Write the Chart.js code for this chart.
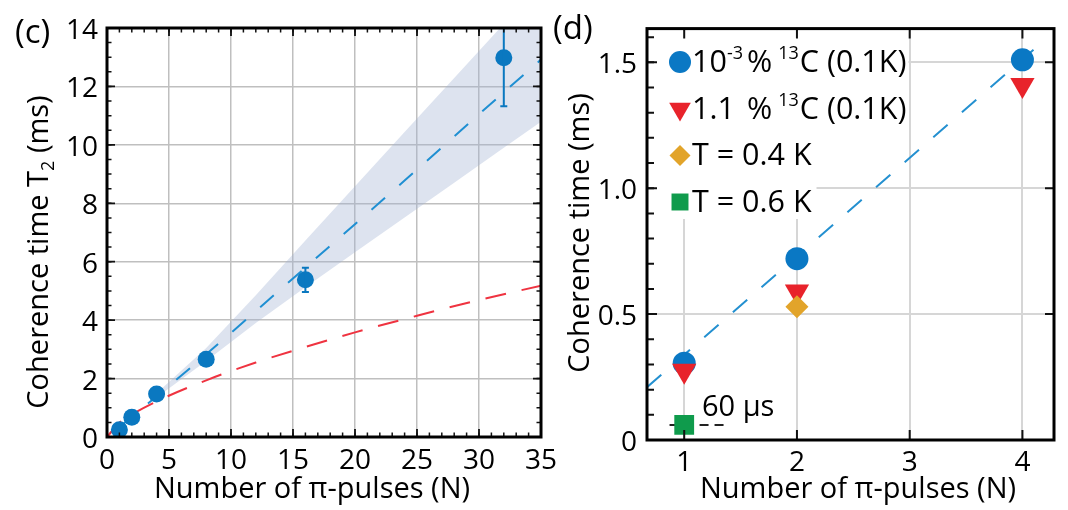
<!DOCTYPE html>
<html>
<head>
<meta charset="utf-8">
<script src="https://cdn.jsdelivr.net/npm/chart.js@4.4.0/dist/chart.umd.min.js"></script>
<style>
  html, body { margin: 0; padding: 0; background: #fff; }
  #wrap { position: relative; width: 1068px; height: 510px; overflow: hidden; background: #fff; }
  #cvC { position: absolute; left: 0; top: 0; }
  #cvD { position: absolute; left: 545px; top: 0; }
</style>
</head>
<body>
<div id="wrap">
  <canvas id="cvC" width="570" height="510"></canvas>
  <canvas id="cvD" width="523" height="510"></canvas>
</div>
<script>
// ---------- Panel (c): T2 versus number of pi pulses ----------
const pulsesC   = [1, 2, 4, 8, 16, 32];
const t2C       = [0.25, 0.675, 1.47, 2.66, 5.38, 12.98];
const t2ErrLow  = [null, null, null, null, 4.96, 11.32];
const t2ErrHigh = [null, null, null, null, 5.79, 15.2];

// fitted scaling (blue dashed) and its confidence band
const fitN  = [1, 2, 4, 8, 16, 24, 32, 35];
const fitT2 = [0.34, 0.69, 1.39, 2.83, 5.80, 8.78, 11.80, 12.92];
const bandN     = [4, 8, 12, 16, 20, 24, 28, 32, 35];
const bandUpper = [1.50, 3.05, 4.85, 6.73, 8.58, 10.44, 12.29, 14.14, 15.50];
const bandLower = [1.35, 2.60, 3.90, 5.13, 6.32, 7.51, 8.70, 9.90, 10.79];

// reference scaling (red dashed)
const refN  = [0, 1, 2, 4, 8, 12, 16, 20, 25, 30, 35];
const refT2 = [0, 0.49, 0.77, 1.22, 1.94, 2.55, 3.08, 3.58, 4.15, 4.69, 5.18];

const xTicksC = [0, 5, 10, 15, 20, 25, 30, 35];
const yTicksC = [0, 2, 4, 6, 8, 10, 12, 14];

// ---------- Panel (d): coherence time for several samples ----------
const pulsesD  = [1, 2, 4];
const lowC13   = [0.305, 0.72, 1.51];   // 10^-3 % 13C (0.1 K)
const natC13   = [0.275, 0.59, 1.41];   // 1.1 % 13C (0.1 K)
const pulsesT04 = [2];
const t04       = [0.529];              // T = 0.4 K
const pulsesT06 = [1];
const t06       = [0.06];               // T = 0.6 K
const fitDN = [0.67, 4.15];
const fitDT = [0.21, 1.57];
const hahnN = [0.87, 1.39];
const hahnT = [0.06, 0.06];             // 60 us level

const xTicksD = [1, 2, 3, 4];
const yTicksD = [0, 0.5, 1.0, 1.5];
const yTickTextD = ['0', '0.5', '1.0', '1.5'];

const legendD = [
  { style: 'circle',   color: '#0a78c4', parts: [['10'], ['-3', 'sup'], ['%', 'pct'], ['13', 'sup2'], ['C (0.1K)']] },
  { style: 'triangle', color: '#e8232b', parts: [['1.1'], ['%', 'pct'], ['13', 'sup2'], ['C (0.1K)']] },
  { style: 'diamond',  color: '#e2a42a', parts: [['T = 0.4 K']] },
  { style: 'square',   color: '#0f9b4c', parts: [['T = 0.6 K']] }
];

const FONT = "'Open Sans', 'DejaVu Sans', sans-serif";
Chart.defaults.font.family = FONT;
Chart.defaults.color = '#000';

const BLUE_PT = '#0a78c0';
const BLUE_LN = '#1f8fd2';
const RED_LN  = '#ef3340';

const xy = (xs, ys) => xs.map((v, i) => ({ x: v, y: ys[i] }));
function steps(min, max, step) {
  const out = [];
  for (let k = 0; min + k * step <= max + 1e-9; k++) out.push(+(min + k * step).toFixed(6));
  return out;
}

function inwardTicks(chart, axis, values, len, sides, width) {
  const { ctx, chartArea: a } = chart;
  const sc = chart.scales[axis];
  ctx.save();
  ctx.strokeStyle = '#111';
  ctx.lineWidth = width;
  ctx.beginPath();
  for (const v of values) {
    const p = sc.getPixelForValue(v);
    if (axis === 'x') {
      if (sides.includes('bottom')) { ctx.moveTo(p, a.bottom); ctx.lineTo(p, a.bottom - len); }
      if (sides.includes('top'))    { ctx.moveTo(p, a.top);    ctx.lineTo(p, a.top + len); }
    } else {
      if (sides.includes('left'))  { ctx.moveTo(a.left, p);  ctx.lineTo(a.left + len, p); }
      if (sides.includes('right')) { ctx.moveTo(a.right, p); ctx.lineTo(a.right - len, p); }
    }
  }
  ctx.stroke();
  ctx.restore();
}

function frame(chart, w) {
  const { ctx, chartArea: a } = chart;
  ctx.save();
  ctx.strokeStyle = '#000';
  ctx.lineWidth = w;
  ctx.strokeRect(a.left, a.top, a.right - a.left, a.bottom - a.top);
  ctx.restore();
}

function text(ctx, str, x, y, size, align, rotate) {
  ctx.save();
  ctx.font = size + 'px ' + FONT;
  ctx.fillStyle = '#000';
  ctx.textAlign = align || 'left';
  ctx.textBaseline = 'middle';
  ctx.translate(x, y);
  if (rotate) ctx.rotate(-Math.PI / 2);
  ctx.fillText(str, 0, 0);
  ctx.restore();
}

function marker(ctx, style, x, y, r, color) {
  ctx.save();
  ctx.fillStyle = color;
  ctx.beginPath();
  if (style === 'circle') {
    ctx.arc(x, y, r, 0, Math.PI * 2);
  } else if (style === 'triangle') {      // apex pointing down
    for (let k = 0; k < 3; k++) {
      const ang = Math.PI + k * 2 * Math.PI / 3;
      const px = x + Math.sin(ang) * r, py = y - Math.cos(ang) * r;
      k ? ctx.lineTo(px, py) : ctx.moveTo(px, py);
    }
    ctx.closePath();
  } else if (style === 'diamond') {
    ctx.moveTo(x, y - r); ctx.lineTo(x + r, y); ctx.lineTo(x, y + r); ctx.lineTo(x - r, y); ctx.closePath();
  } else {
    const s = r * Math.SQRT1_2;
    ctx.rect(x - s, y - s, 2 * s, 2 * s);
  }
  ctx.fill();
  ctx.restore();
}

// ---------- chart (c) ----------
const decorC = {
  id: 'decorC',
  afterDatasetsDraw(chart) {
    const { ctx, chartArea: a, scales: { x, y } } = chart;
    ctx.save();
    ctx.beginPath();
    ctx.rect(a.left, a.top, a.right - a.left, a.bottom - a.top);
    ctx.clip();
    ctx.strokeStyle = BLUE_PT;
    ctx.lineWidth = 2;
    pulsesC.forEach((n, i) => {
      if (t2ErrLow[i] == null) return;
      const px = x.getPixelForValue(n);
      const lo = y.getPixelForValue(t2ErrLow[i]);
      const hi = y.getPixelForValue(t2ErrHigh[i]);
      ctx.beginPath();
      ctx.moveTo(px, lo); ctx.lineTo(px, hi);
      ctx.moveTo(px - 3.5, lo); ctx.lineTo(px + 3.5, lo);
      ctx.moveTo(px - 3.5, hi); ctx.lineTo(px + 3.5, hi);
      ctx.stroke();
    });
    ctx.restore();
  },
  afterDraw(chart) {
    const { ctx } = chart;
    inwardTicks(chart, 'x', steps(0, 35, 1), 4.5, ['top', 'bottom'], 1.5);
    inwardTicks(chart, 'x', xTicksC, 8, ['top', 'bottom'], 1.8);
    inwardTicks(chart, 'y', steps(0, 14, 0.5), 4.5, ['left', 'right'], 1.5);
    inwardTicks(chart, 'y', yTicksC, 8, ['left', 'right'], 1.8);
    frame(chart, 3);

    text(ctx, '(c)', 15, 34, 33, 'left');
    text(ctx, 'Number of \u03C0-pulses (N)', 312, 490, 29, 'center');

    // rotated axis title with subscript
    ctx.save();
    ctx.translate(40, 252);
    ctx.rotate(-Math.PI / 2);
    ctx.fillStyle = '#000';
    ctx.textBaseline = 'middle';
    const big = '29px ' + FONT, small = '18px ' + FONT;
    ctx.font = big;
    const p1 = 'Coherence time T', p3 = ' (ms)';
    const w1 = ctx.measureText(p1).width, w3 = ctx.measureText(p3).width;
    ctx.font = small;
    const w2 = ctx.measureText('2').width;
    let sx = -(w1 + w2 + w3) / 2;
    ctx.font = big;  ctx.fillText(p1, sx, 0); sx += w1;
    ctx.font = small; ctx.fillText('2', sx, 9); sx += w2;
    ctx.font = big;  ctx.fillText(p3, sx, 0);
    ctx.restore();
  }
};

new Chart(document.getElementById('cvC'), {
  type: 'scatter',
  data: {
    datasets: [
      { type: 'line', data: xy(bandN, bandUpper), borderColor: 'rgba(0,0,0,0)', borderWidth: 0,
        pointRadius: 0, fill: false, order: 30 },
      { type: 'line', data: xy(bandN, bandLower), borderColor: 'rgba(0,0,0,0)', borderWidth: 0,
        pointRadius: 0, fill: '-1', backgroundColor: 'rgba(160,178,212,0.36)', order: 29 },
      { type: 'line', data: xy(refN, refT2), borderColor: RED_LN, borderWidth: 2, borderDash: [21, 16],
        pointRadius: 0, cubicInterpolationMode: 'monotone', fill: false, order: 12 },
      { type: 'line', data: xy(fitN, fitT2), borderColor: BLUE_LN, borderWidth: 2, borderDash: [18, 19],
        pointRadius: 0, cubicInterpolationMode: 'monotone', fill: false, order: 11 },
      { data: xy(pulsesC, t2C), backgroundColor: BLUE_PT, borderWidth: 0, pointRadius: 8.5,
        pointHoverRadius: 8.5, order: 1 }
    ]
  },
  options: {
    responsive: false,
    animation: false,
    events: [],
    layout: { padding: { top: 28, right: 29, left: 0, bottom: 0 } },
    plugins: { legend: { display: false }, tooltip: { enabled: false } },
    scales: {
      x: {
        type: 'linear', min: 0, max: 35,
        afterFit: s => { s.height = 73; },
        afterBuildTicks: s => { s.ticks = xTicksC.map(v => ({ value: v })); },
        grid: { color: '#bfbfbf', lineWidth: 1.5, drawTicks: false },
        border: { display: false },
        ticks: { autoSkip: false, maxRotation: 0, padding: 7, font: { size: 28 }, color: '#000' }
      },
      y: {
        type: 'linear', min: 0, max: 14,
        afterFit: s => { s.width = 107; },
        afterBuildTicks: s => { s.ticks = yTicksC.map(v => ({ value: v })); },
        grid: { color: '#bfbfbf', lineWidth: 1.5, drawTicks: false },
        border: { display: false },
        ticks: { autoSkip: false, padding: 9, labelOffset: 3, font: { size: 28 }, color: '#000' }
      }
    }
  },
  plugins: [decorC]
});

// ---------- chart (d) ----------
const decorD = {
  id: 'decorD',
  beforeDatasetsDraw(chart) {
    const { ctx, chartArea: a } = chart;
    // legend panel sits on top of the grid
    ctx.save();
    ctx.fillStyle = '#fff';
    ctx.fillRect(a.left + 1.5, a.top + 2, 362 - a.left, 133 - a.top);
    ctx.fillRect(a.left + 1.5, 133, 270 - a.left, 86);
    ctx.restore();

    const rowsY = [62, 109, 155.5, 202];
    const sizes = { circle: 11, triangle: 12.5, diamond: 10.5, square: 12 };
    let pctX = null, sup2X = null, restX = null;
    legendD.forEach((row, i) => {
      const cy = rowsY[i];
      marker(ctx, row.style, 135, cy, sizes[row.style], row.color);
      let x = 147;
      ctx.save();
      ctx.fillStyle = '#000';
      ctx.textBaseline = 'middle';
      for (const [str, kind] of row.parts) {
        if (kind === 'sup' || kind === 'sup2') {
          ctx.font = '18px ' + FONT;
          if (kind === 'sup2') { if (sup2X === null) sup2X = x + 6; x = sup2X; }
          ctx.fillText(str, x, cy - 8);
          x += ctx.measureText(str).width + 1;
          if (kind === 'sup2') { if (restX === null) restX = x; x = restX; }
        } else {
          ctx.font = '30.5px ' + FONT;
          if (kind === 'pct') { if (pctX === null) pctX = x + 3; x = pctX; }
          ctx.fillText(str, x, cy + 1);
          x += ctx.measureText(str).width;
        }
      }
      ctx.restore();
    });
  },
  afterDraw(chart) {
    const { ctx } = chart;
    inwardTicks(chart, 'y', steps(0, 1.6, 0.1), 7, ['left'], 2);
    inwardTicks(chart, 'y', yTicksD, 10, ['left'], 2);
    inwardTicks(chart, 'y', yTicksD, 9, ['right'], 2);
    inwardTicks(chart, 'x', xTicksD, 10, ['top', 'bottom'], 2);
    frame(chart, 3);

    text(ctx, '(d)', 8, 30, 33, 'left');
    text(ctx, '60 \u03BCs', 157, 408, 29, 'left');
    text(ctx, 'Number of \u03C0-pulses (N)', 313, 490, 29, 'center');
    text(ctx, 'Coherence time (ms)', 36, 233, 29, 'center', true);
  }
};

new Chart(document.getElementById('cvD'), {
  type: 'scatter',
  data: {
    datasets: [
      { type: 'line', data: xy(fitDN, fitDT), borderColor: '#2490d0', borderWidth: 2, borderDash: [19, 19],
        pointRadius: 0, fill: false, order: 12 },
      { type: 'line', data: xy(hahnN, hahnT), borderColor: '#222', borderWidth: 2, borderDash: [9, 6],
        pointRadius: 0, fill: false, order: 11 },
      { data: xy(pulsesD, lowC13), backgroundColor: '#0a78c4', borderWidth: 0, pointRadius: 11.5,
        pointHoverRadius: 11.5, order: 5 },
      { data: xy(pulsesD, natC13), backgroundColor: '#e8232b', borderWidth: 0, pointStyle: 'triangle',
        rotation: 180, pointRadius: 14, pointHoverRadius: 14, order: 4 },
      { data: xy(pulsesT04, t04), backgroundColor: '#e2a42a', borderWidth: 0, pointStyle: 'rectRot',
        pointRadius: 11.5, pointHoverRadius: 11.5, order: 3 },
      { data: xy(pulsesT06, t06), backgroundColor: '#0f9b4c', borderWidth: 0, pointStyle: 'rect',
        pointRadius: 14, pointHoverRadius: 14, order: 2 }
    ]
  },
  options: {
    responsive: false,
    animation: false,
    events: [],
    layout: { padding: { top: 28.6, right: 3, left: 0, bottom: 0 } },
    plugins: { legend: { display: false }, tooltip: { enabled: false } },
    scales: {
      x: {
        type: 'linear', min: 0.67, max: 4.28,
        afterFit: s => { s.height = 70; },
        afterBuildTicks: s => { s.ticks = xTicksD.map(v => ({ value: v })); },
        grid: { color: '#d6d6d6', lineWidth: 2, drawTicks: false },
        border: { display: false },
        ticks: { autoSkip: false, maxRotation: 0, padding: 6, font: { size: 28 }, color: '#000' }
      },
      y: {
        type: 'linear', min: 0, max: 1.634,
        afterFit: s => { s.width = 102; },
        afterBuildTicks: s => { s.ticks = yTicksD.map(v => ({ value: v })); },
        grid: { color: '#d6d6d6', lineWidth: 2, drawTicks: false },
        border: { display: false },
        ticks: { autoSkip: false, padding: 10, labelOffset: 3, font: { size: 28 }, color: '#000',
                 callback: v => yTickTextD[yTicksD.indexOf(v)] }
      }
    }
  },
  plugins: [decorD]
});
</script>
</body>
</html>
